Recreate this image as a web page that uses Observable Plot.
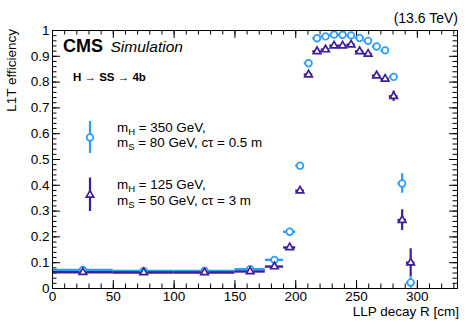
<!DOCTYPE html>
<html>
<head>
<meta charset="utf-8">
<script src="https://cdn.jsdelivr.net/npm/d3@7"></script>
<script src="https://cdn.jsdelivr.net/npm/@observablehq/plot@0.6"></script>
<style>
  html, body { margin: 0; padding: 0; background: #fff; }
  #chart { width: 476px; height: 326px; }
</style>
</head>
<body>
<div id="chart"></div>
<script>
// Bin edges in LLP decay R [cm]
const binEdges = [0, 50, 100, 150, 175, 190, 200, 207, 214, 221, 228, 235, 242, 249, 256, 263, 270, 277, 284, 291, 298];

// mH = 350 GeV, mS = 80 GeV, ctau = 0.5 m
const effA = [0.072, 0.068, 0.068, 0.075, 0.111, 0.220, 0.476, 0.873, 0.970, 0.977, 0.984, 0.983, 0.981, 0.971, 0.960, 0.938, 0.923, 0.820, 0.407, 0.023];
const errA = [0.003, 0.003, 0.003, 0.004, 0.005, 0.008, 0.008, 0.006, 0.004, 0.004, 0.003, 0.003, 0.003, 0.004, 0.005, 0.006, 0.007, 0.010, 0.038, 0.022];

// mH = 125 GeV, mS = 50 GeV, ctau = 3 m
const effB = [0.063, 0.062, 0.062, 0.066, 0.085, 0.159, 0.379, 0.829, 0.919, 0.926, 0.941, 0.941, 0.945, 0.919, 0.909, 0.825, 0.812, 0.745, 0.265, 0.100];
const errB = [0.003, 0.003, 0.003, 0.004, 0.005, 0.008, 0.010, 0.008, 0.006, 0.006, 0.006, 0.006, 0.006, 0.007, 0.008, 0.010, 0.012, 0.020, 0.040, 0.054];

const xTicksMajor = [0, 50, 100, 150, 200, 250, 300];
const xTicksMinor = d3.range(0, 331, 10);
const yTicksMajor = [0, 0.1, 0.2, 0.3, 0.4, 0.5, 0.6, 0.7, 0.8, 0.9, 1];
const yTicksMinor = d3.range(0, 51).map(i => i / 50);

const colA = "#2a9df4";
const colB = "#3f1d9c";

function build(eff, err) {
  return eff.map((v, i) => ({
    lo: binEdges[i], hi: binEdges[i + 1], c: (binEdges[i] + binEdges[i + 1]) / 2,
    v, e: err[i]
  }));
}
const dataA = build(effA, errA);
const dataB = build(effB, errB);

const W = 476, H = 326;
const mL = 52, mR = 19, mT = 30, mB = 38;
const fw = W - mL - mR, fh = H - mT - mB;
const majLen = 8, minLen = 4.5;
const rCirc = 3.3, rTri = 2.8;

function seriesMarks(data, col) {
  return [
    Plot.ruleY(data, {y: "v", x1: "lo", x2: "hi", stroke: col, strokeWidth: 2.4}),
    Plot.ruleX(data, {x: "c", y1: d => d.v - d.e, y2: d => d.v + d.e, stroke: col, strokeWidth: 2.2})
  ];
}

const svg = Plot.plot({
  width: W, height: H,
  marginLeft: mL, marginRight: mR, marginTop: mT, marginBottom: mB,
  style: {fontFamily: "'Liberation Sans', Arial, Helvetica, sans-serif", fontSize: "13.5px", color: "black", background: "white"},
  x: {domain: [0, 333], ticks: xTicksMajor, tickSize: 0, tickPadding: 3, label: null, tickFormat: d => String(d)},
  y: {domain: [0, 1], ticks: yTicksMajor, tickSize: 0, tickPadding: 3, label: null, tickFormat: d => String(+d.toFixed(1))},
  marks: [
    // inward ROOT-style ticks on all four sides
    Plot.tickX(xTicksMinor, {x: d => d, insetTop: fh - minLen, stroke: "black"}),
    Plot.tickX(xTicksMajor, {x: d => d, insetTop: fh - majLen, stroke: "black"}),
    Plot.tickX(xTicksMinor, {x: d => d, insetBottom: fh - minLen, stroke: "black"}),
    Plot.tickX(xTicksMajor, {x: d => d, insetBottom: fh - majLen, stroke: "black"}),
    Plot.tickY(yTicksMinor, {y: d => d, insetRight: fw - minLen, stroke: "black"}),
    Plot.tickY(yTicksMajor, {y: d => d, insetRight: fw - majLen, stroke: "black"}),
    Plot.tickY(yTicksMinor, {y: d => d, insetLeft: fw - minLen, stroke: "black"}),
    Plot.tickY(yTicksMajor, {y: d => d, insetLeft: fw - majLen, stroke: "black"}),
    ...seriesMarks(dataA, colA),
    ...seriesMarks(dataB, colB),
    Plot.dot(dataA, {x: "c", y: "v", r: rCirc, stroke: colA, fill: "white", strokeWidth: 1.7}),
    Plot.dot(dataB, {x: "c", y: "v", r: rTri, symbol: "triangle", stroke: colB, fill: "white", strokeWidth: 1.7}),
    Plot.frame({stroke: "black", strokeWidth: 1})
  ]
});

document.getElementById("chart").appendChild(svg);

// Annotations (text and legend) on top of the plot
const s = d3.select(svg);
const ff = "'Liberation Sans', Arial, Helvetica, sans-serif";
const g = s.append("g").attr("font-family", ff).attr("fill", "black").attr("text-anchor", "start");

g.append("text").attr("x", 63).attr("y", 51.5).attr("font-size", 18).attr("font-weight", "bold").text("CMS");
g.append("text").attr("x", 110.5).attr("y", 51.5).attr("font-size", 15.5).attr("font-style", "italic").text("Simulation");
{
  const t = g.append("text").attr("x", 73).attr("y", 81).attr("font-size", 11.5).attr("font-weight", "bold");
  t.append("tspan").text("H ");
  t.append("tspan").attr("font-weight", "normal").text("→");
  t.append("tspan").text(" SS ");
  t.append("tspan").attr("font-weight", "normal").text("→");
  t.append("tspan").text(" 4b");
}
g.append("text").attr("x", 458).attr("y", 22.5).attr("font-size", 14).attr("text-anchor", "end").text("(13.6 TeV)");
g.append("text").attr("x", 459).attr("y", 315.5).attr("font-size", 13.5).attr("text-anchor", "end").text("LLP decay R [cm]");
g.append("text").attr("transform", "translate(15.5,29) rotate(-90)").attr("font-size", 13.5).attr("text-anchor", "end").text("L1T efficiency");

// Legend
function legendEntry(col, symbol, cy, y0, y1, sub1, val1, sub2, rest2) {
  g.append("line").attr("x1", 90).attr("x2", 90).attr("y1", y0).attr("y2", y1).attr("stroke", col).attr("stroke-width", 2.2);
  if (symbol === "circle") {
    g.append("circle").attr("cx", 90).attr("cy", cy).attr("r", rCirc).attr("fill", "white").attr("stroke", col).attr("stroke-width", 1.7);
  } else {
    g.append("path").attr("transform", `translate(90,${cy})`).attr("d", d3.symbol(d3.symbolTriangle, Math.PI * rTri * rTri)()).attr("fill", "white").attr("stroke", col).attr("stroke-width", 1.7);
  }
  const fs = 13.4;
  const l1 = g.append("text").attr("x", 117).attr("y", cy - 6).attr("font-size", fs);
  l1.append("tspan").text("m");
  l1.append("tspan").attr("font-size", 9.5).attr("dy", 3).text(sub1);
  l1.append("tspan").attr("dy", -3).text(val1);
  const l2 = g.append("text").attr("x", 117).attr("y", cy + 9.5).attr("font-size", fs);
  l2.append("tspan").text("m");
  l2.append("tspan").attr("font-size", 9.5).attr("dy", 3).text(sub2);
  l2.append("tspan").attr("dy", -3).text(rest2);
}
legendEntry(colA, "circle", 137.5, 121, 153, "H", " = 350 GeV,", "S", " = 80 GeV, cτ = 0.5 m");
legendEntry(colB, "triangle", 195, 177.5, 211, "H", " = 125 GeV,", "S", " = 50 GeV, cτ = 3 m");
</script>
</body>
</html>
